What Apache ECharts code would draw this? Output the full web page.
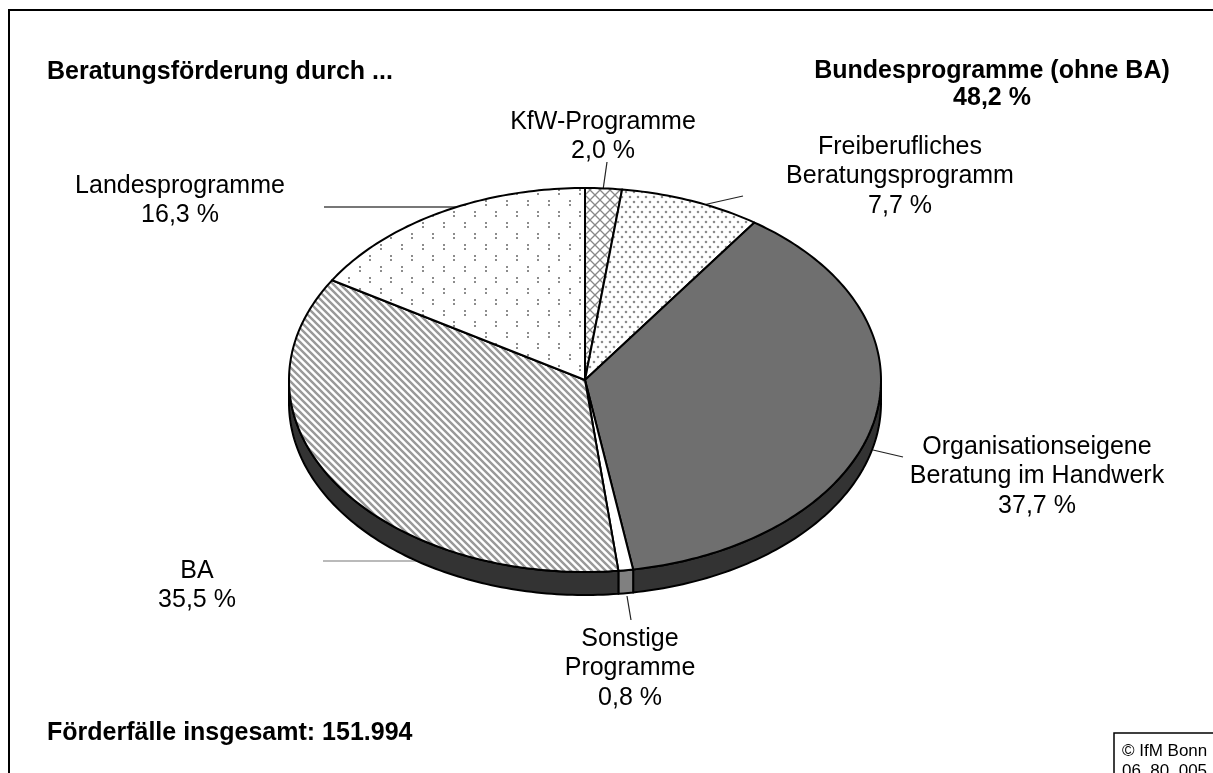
<!DOCTYPE html>
<html>
<head>
<meta charset="utf-8">
<title>Beratungsförderung</title>
<script src="https://cdn.jsdelivr.net/npm/echarts@6/dist/echarts.min.js"></script>
<style>
  html, body { margin: 0; padding: 0; background: #fff; }
  #chart { width: 1213px; height: 773px; }
</style>
</head>
<body>
<div id="chart"></div>
<script>
// data, clockwise from 12 o'clock
const categories = [
  'KfW-Programme',
  'Freiberufliches\nBeratungsprogramm',
  'Organisationseigene\nBeratung im Handwerk',
  'Sonstige\nProgramme',
  'BA',
  'Landesprogramme'
]
const shares = [2.0, 7.7, 37.7, 0.8, 35.5, 16.3]
const bundesShare = 48.2
const totalCases = '151.994'

// layout of the pie (pixels)
const cx = 585, cy = 380, rx = 296, ry = 192, depth = 23
const FONT = '"Liberation Sans", Arial, sans-serif'

// label blocks: center x, top y
const labelPos = [[603, 107], [900, 132], [1037, 432], [630, 624], [197, 556], [180, 171]]
// leader lines: outer point -> pie point
const leaderLines = [
  [607, 162, 603, 190],
  [743, 196, 703, 205],
  [903, 457, 873, 450],
  [631, 620, 627, 596],
  [323, 561, 418, 561],
  [324, 207, 457, 207]
]

function tile(w, h, draw) {
  const c = document.createElement('canvas')
  c.width = w
  c.height = h
  const ctx = c.getContext('2d')
  ctx.fillStyle = '#fff'
  ctx.fillRect(0, 0, w, h)
  draw(ctx)
  return { image: c, repeat: 'repeat' }
}

const crossHatch = tile(10, 10, ctx => {
  ctx.strokeStyle = '#888'
  ctx.lineWidth = 1.3
  ctx.beginPath()
  ctx.moveTo(0, 0); ctx.lineTo(10, 10)
  ctx.moveTo(10, 0); ctx.lineTo(0, 10)
  ctx.stroke()
})
const fineDots = tile(8, 10, ctx => {
  ctx.fillStyle = '#8c8c8c'
  ctx.beginPath()
  ctx.arc(2, 2, 1.3, 0, Math.PI * 2)
  ctx.arc(6, 7, 1.3, 0, Math.PI * 2)
  ctx.fill()
})
const sparseDots = tile(21, 22, ctx => {
  ctx.fillStyle = '#8c8c8c'
  ctx.fillRect(2, 2, 2, 2)
  ctx.fillRect(2, 6, 2, 2)
  ctx.fillRect(12, 13, 2, 2)
  ctx.fillRect(12, 17, 2, 2)
})
const stripes = tile(7, 7, ctx => {
  ctx.strokeStyle = '#999'
  ctx.lineWidth = 2.4
  ctx.beginPath()
  ctx.moveTo(-1, -1); ctx.lineTo(8, 8)
  ctx.moveTo(-1, 6); ctx.lineTo(1, 8)
  ctx.moveTo(6, -1); ctx.lineTo(8, 1)
  ctx.stroke()
})

const topFills = [crossHatch, fineDots, '#6f6f6f', '#ffffff', stripes, sparseDots]
const sideFills = ['#333333', '#333333', '#333333', '#808080', '#333333', '#333333']

const total = shares.reduce((a, b) => a + b, 0)
const starts = []
let acc = 0
shares.forEach(v => { starts.push(acc); acc += v })

function ept(t, dy) {
  return [cx + rx * Math.sin(t), cy - ry * Math.cos(t) + (dy || 0)]
}

function arc(a, b, dy) {
  const pts = []
  const n = Math.max(2, Math.ceil((b - a) / (Math.PI / 180)))
  for (let k = 0; k <= n; k++) pts.push(ept(a + (b - a) * k / n, dy))
  return pts
}

function pct(v) {
  return v.toFixed(1).replace('.', ',') + ' %'
}

function renderSlice(params, api) {
  const i = params.dataIndex
  const a = starts[i] / total * Math.PI * 2
  const b = (starts[i] + api.value(0)) / total * Math.PI * 2
  const children = []

  const ln = leaderLines[i]
  children.push({
    type: 'line',
    shape: { x1: ln[0], y1: ln[1], x2: ln[2], y2: ln[3] },
    style: { stroke: i === 5 || i === 4 ? '#777' : '#222', lineWidth: i === 5 ? 2 : 1.2 }
  })

  // visible side wall (front half of the ellipse)
  const sa = Math.max(a, Math.PI / 2)
  const sb = Math.min(b, Math.PI * 1.5)
  if (sb > sa) {
    const pts = arc(sa, sb, 0).concat(arc(sa, sb, depth).reverse())
    children.push({
      type: 'polygon',
      shape: { points: pts },
      style: { fill: sideFills[i], stroke: '#000', lineWidth: 2, lineJoin: 'round' }
    })
  }

  children.push({
    type: 'polygon',
    shape: { points: [[cx, cy]].concat(arc(a, b, 0)) },
    style: { fill: topFills[i], stroke: '#000', lineWidth: 2, lineJoin: 'round' }
  })

  const lp = labelPos[i]
  children.push({
    type: 'text',
    style: {
      text: categories[i] + '\n' + pct(api.value(0)),
      x: lp[0],
      y: lp[1],
      align: 'center',
      verticalAlign: 'top',
      font: '25px ' + FONT,
      lineHeight: 29.5,
      fill: '#000'
    }
  })

  return { type: 'group', children }
}

const chart = echarts.init(document.getElementById('chart'), null, { renderer: 'canvas' })

chart.setOption({
  backgroundColor: '#fff',
  animation: false,
  graphic: [
    {
      type: 'rect',
      shape: { x: 9, y: 10, width: 1230, height: 800 },
      style: { fill: 'none', stroke: '#000', lineWidth: 2 },
      z: 1
    },
    {
      type: 'text',
      style: { text: 'Beratungsförderung durch ...', x: 47, y: 72, verticalAlign: 'middle', font: 'bold 25px ' + FONT, fill: '#000' }
    },
    {
      type: 'text',
      style: {
        text: 'Bundesprogramme (ohne BA)\n' + pct(bundesShare),
        x: 992, y: 58, align: 'center', verticalAlign: 'top',
        font: 'bold 25px ' + FONT, lineHeight: 27, fill: '#000'
      }
    },
    {
      type: 'text',
      style: { text: 'Förderfälle insgesamt: ' + totalCases, x: 47, y: 733, verticalAlign: 'middle', font: 'bold 25px ' + FONT, fill: '#000' }
    },
    {
      type: 'rect',
      shape: { x: 1114, y: 733, width: 120, height: 60 },
      style: { fill: '#fff', stroke: '#000', lineWidth: 1.5 }
    },
    {
      type: 'text',
      style: {
        text: '© IfM Bonn\n06  80  005',
        x: 1122, y: 741, verticalAlign: 'top',
        font: '17px ' + FONT, lineHeight: 20, fill: '#000'
      }
    }
  ],
  series: [{
    type: 'custom',
    coordinateSystem: 'none',
    renderItem: renderSlice,
    data: shares.map(v => [v]),
    silent: true
  }]
})

window.addEventListener('resize', () => chart.resize())
</script>
</body>
</html>
